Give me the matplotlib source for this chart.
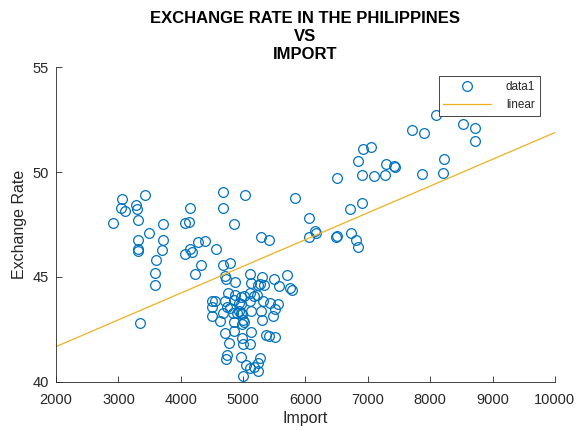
import matplotlib
matplotlib.use("Agg")
import matplotlib.pyplot as plt
import numpy as np

# Import vs exchange rate
imports = [
    3061, 3419, 3045, 3103, 3279, 3302, 2917, 3318, 3718, 3494,
    3318, 3318, 3318, 3718, 3696, 3606, 3590, 3579, 3350, 4156,
    4060, 4124, 4284, 4392, 4156, 4060, 4188, 4328, 4236, 4680,
    5038, 4680, 5839, 4861, 6052, 5294, 5418, 4568, 6052, 4680,
    4786, 6508, 6844, 6908, 7094, 6721, 6913, 6160, 6171, 6508,
    6496, 6726, 6812, 6838, 7282, 8099, 7710, 7896, 8521, 8713,
    8725, 6918, 7053, 7293, 7426, 7442, 8228, 7870, 8200, 5706,
    5305, 5331, 5491, 5571, 5748, 5786, 5118, 4706, 4728, 4866,
    5134, 5241, 5267, 4754, 4877, 4958, 5010, 5107, 5171, 5225,
    4504, 4557, 4717, 4850, 4930, 4958, 5118, 5321, 5438, 5555,
    4504, 4744, 4797, 4930, 4905, 4958, 5134, 5294, 5519, 4504,
    4680, 4841, 4974, 5001, 5022, 4985, 4850, 4637, 5305, 5482,
    4706, 4861, 5134, 5374, 5418, 5507, 4781, 4985, 5001, 5107,
    4744, 4733, 4958, 5267, 5241, 5054, 5118, 5171, 5241, 5001,
]
exchange_rate = [
    48.73, 48.92, 48.30, 48.13, 48.45, 48.22, 47.56, 47.73, 47.51, 47.08,
    46.75, 46.35, 46.24, 46.75, 46.26, 45.80, 45.19, 44.60, 42.81, 48.27,
    47.56, 47.60, 46.68, 46.70, 46.32, 46.10, 46.19, 45.59, 45.14, 49.03,
    48.90, 48.29, 48.75, 47.50, 47.83, 46.90, 46.78, 46.32, 46.88, 45.59,
    45.67, 49.71, 50.51, 49.84, 49.80, 48.26, 48.54, 47.18, 47.07, 46.94,
    46.90, 47.08, 46.78, 46.43, 49.84, 52.73, 52.02, 51.86, 52.27, 52.08,
    51.46, 51.10, 51.19, 50.40, 50.30, 50.22, 50.62, 49.89, 49.97, 45.11,
    45.00, 44.60, 44.88, 44.58, 44.48, 44.37, 45.16, 45.03, 44.92, 44.76,
    44.71, 44.60, 44.65, 44.21, 44.13, 44.05, 44.08, 44.24, 44.08, 44.13,
    43.86, 43.86, 43.86, 43.89, 43.76, 43.73, 43.86, 43.84, 43.76, 43.73,
    43.57, 43.57, 43.50, 43.38, 43.29, 43.29, 43.38, 43.38, 43.45, 43.13,
    43.26, 43.26, 43.22, 42.94, 42.86, 42.75, 42.86, 42.90, 42.94, 43.13,
    42.33, 42.43, 42.38, 42.22, 42.18, 42.14, 41.86, 42.11, 41.80, 41.80,
    41.30, 41.08, 41.16, 41.14, 40.92, 40.80, 40.64, 40.69, 40.52, 40.27,
]

# linear fit shown in the reference
fit_slope = 0.001275
fit_intercept = 39.13

x_ticks = [2000, 3000, 4000, 5000, 6000, 7000, 8000, 9000, 10000]
y_ticks = [40, 45, 50, 55]

plt.rcParams["font.family"] = ["Liberation Sans", "DejaVu Sans"]
text_color = "#262626"

fig = plt.figure(figsize=(5.78, 4.30), dpi=100)
ax = fig.add_axes([0.097, 0.112, 0.863, 0.732])

ax.plot(imports, exchange_rate, "o", mfc="none", mec="#0072BD",
        ms=7.0, mew=0.9, label="data1")

xfit = np.array([2000, 10000])
ax.plot(xfit, fit_intercept + fit_slope * xfit, color="#EDB120",
        lw=0.9, label="linear")

ax.set_xlim(2000, 10000)
ax.set_ylim(40, 55)
ax.set_xticks(x_ticks)
ax.set_yticks(y_ticks)
ax.tick_params(direction="in", length=4, width=0.6, labelsize=10.5,
               colors=text_color)
ax.tick_params(axis="x", pad=8)
ax.tick_params(axis="y", pad=5)
for side in ["top", "right"]:
    ax.spines[side].set_visible(False)
for side in ["left", "bottom"]:
    ax.spines[side].set_linewidth(0.6)
    ax.spines[side].set_color(text_color)

ax.set_xlabel("Import", fontsize=11.5, color=text_color, labelpad=3)
ax.set_ylabel("Exchange Rate", fontsize=11.5, color=text_color, labelpad=4)
ax.set_title("EXCHANGE RATE IN THE PHILIPPINES\nVS\nIMPORT",
             fontsize=12, fontweight="bold", linespacing=1.22, pad=6)

leg = ax.legend(loc="upper right", bbox_to_anchor=(540 / 578, 1 - 76 / 430),
                bbox_transform=fig.transFigure, borderaxespad=0,
                fontsize=8.5, frameon=True, fancybox=False, framealpha=1,
                edgecolor="#262626", handlelength=4.0, borderpad=0.4,
                labelspacing=0.55, handletextpad=1.3)
leg.get_frame().set_linewidth(0.6)
for t in leg.get_texts():
    t.set_color(text_color)

fig.savefig("out.png", dpi=100)
